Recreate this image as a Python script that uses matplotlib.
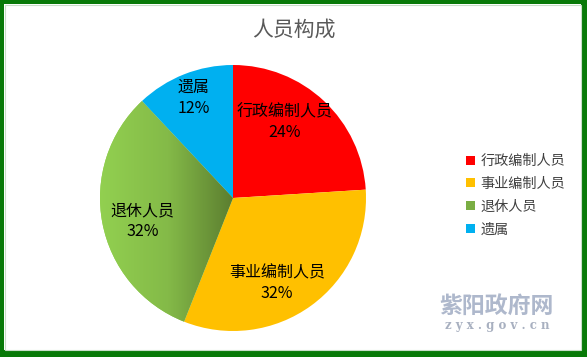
import numpy as np
import matplotlib
matplotlib.use("Agg")
import matplotlib.pyplot as plt
from matplotlib.patches import Rectangle, Patch
from matplotlib.colors import LinearSegmentedColormap

plt.rcParams["font.family"] = ["Noto Sans CJK SC", "DejaVu Sans"]

# data
categories = ["行政编制人员", "事业编制人员", "退休人员", "遗属"]
shares = [24, 32, 32, 12]
colors = ["#FF0000", "#FFC000", "#92D050", "#00B0F0"]

# label placement (fraction of radius, angular shift from wedge bisector)
label_dist = [0.69, 0.72, 0.70, 0.81]
label_shift = [8.8, -8.6, 3.5, 0.0]

W, H = 587, 357
fig = plt.figure(figsize=(W / 100, H / 100), dpi=100)
fig.patch.set_facecolor("white")

# pie axes: centre ~ (233, 198) px, radius ~133 px
R = 133
cx, cy = 233, 198
ax = fig.add_axes([(cx - R) / W, (H - cy - R) / H, 2 * R / W, 2 * R / H])
wedges, _ = ax.pie(shares, colors=colors, startangle=90, counterclock=False,
                   radius=1.0, wedgeprops=dict(linewidth=0))
ax.set_xlim(-1, 1)
ax.set_ylim(-1, 1)
ax.set_aspect("equal")
ax.axis("off")

# green slice: horizontal gradient light -> dark towards the centre
green_cmap = LinearSegmentedColormap.from_list("g", ["#92D050", "#84BA48", "#5A7B2F"])
grad = np.linspace(0, 1, 256).reshape(1, -1)
img = ax.imshow(grad, cmap=green_cmap, extent=[-1.0, 0.02, -1.0, 1.0],
                aspect="auto", zorder=wedges[2].get_zorder() + 0.1)
img.set_clip_path(wedges[2])

for w, name, pct, d, s in zip(wedges, categories, shares, label_dist, label_shift):
    ang = np.deg2rad((w.theta1 + w.theta2) / 2 + s)
    ax.text(d * np.cos(ang), d * np.sin(ang), f"{name}\n{pct}%",
            ha="center", va="center", fontsize=11.5, color="#000000",
            linespacing=1.3, zorder=5)

fig.text(0.5, 1 - 30 / H, "人员构成", ha="center", va="center",
         fontsize=15, color="#595959")

handles = [Patch(facecolor=c, edgecolor="none") for c in colors]
handles[2] = Patch(facecolor="#7AAE43", edgecolor="none")
leg = fig.legend(handles, categories, loc="upper left",
                 bbox_to_anchor=(459 / W, 1 - 147 / H), frameon=False,
                 fontsize=10.2, handlelength=0.6, handleheight=0.6,
                 handletextpad=0.4, labelspacing=0.62, borderpad=0)
for t in leg.get_texts():
    t.set_color("#404040")

# watermark
fig.text(496 / W, 1 - 306 / H, "紫阳政府网", ha="center", va="center",
         fontsize=16.5, fontweight="bold", color="#AEB8CC")
fig.text(497 / W, 1 - 326 / H, "z y x . g o v . c n", ha="center", va="center",
         fontsize=8.5, fontweight="bold", family="DejaVu Serif", color="#A8B0C0")

# green frame
green = "#087A08"
for x0, y0, w, h in [(0, 0, 4, H), (W - 6, 0, 6, H), (0, 0, W, 4), (0, H - 7, W, 7)]:
    fig.patches.append(Rectangle((x0 / W, 1 - (y0 + h) / H), w / W, h / H,
                                 transform=fig.transFigure, facecolor=green,
                                 edgecolor="none", zorder=10))
fig.patches.append(Rectangle((4.5 / W, 7.5 / H), (W - 11) / W, (H - 12) / H,
                             transform=fig.transFigure, facecolor="none",
                             edgecolor="#C8DEC8", linewidth=0.8, zorder=10))

fig.savefig("out.png", dpi=100)
